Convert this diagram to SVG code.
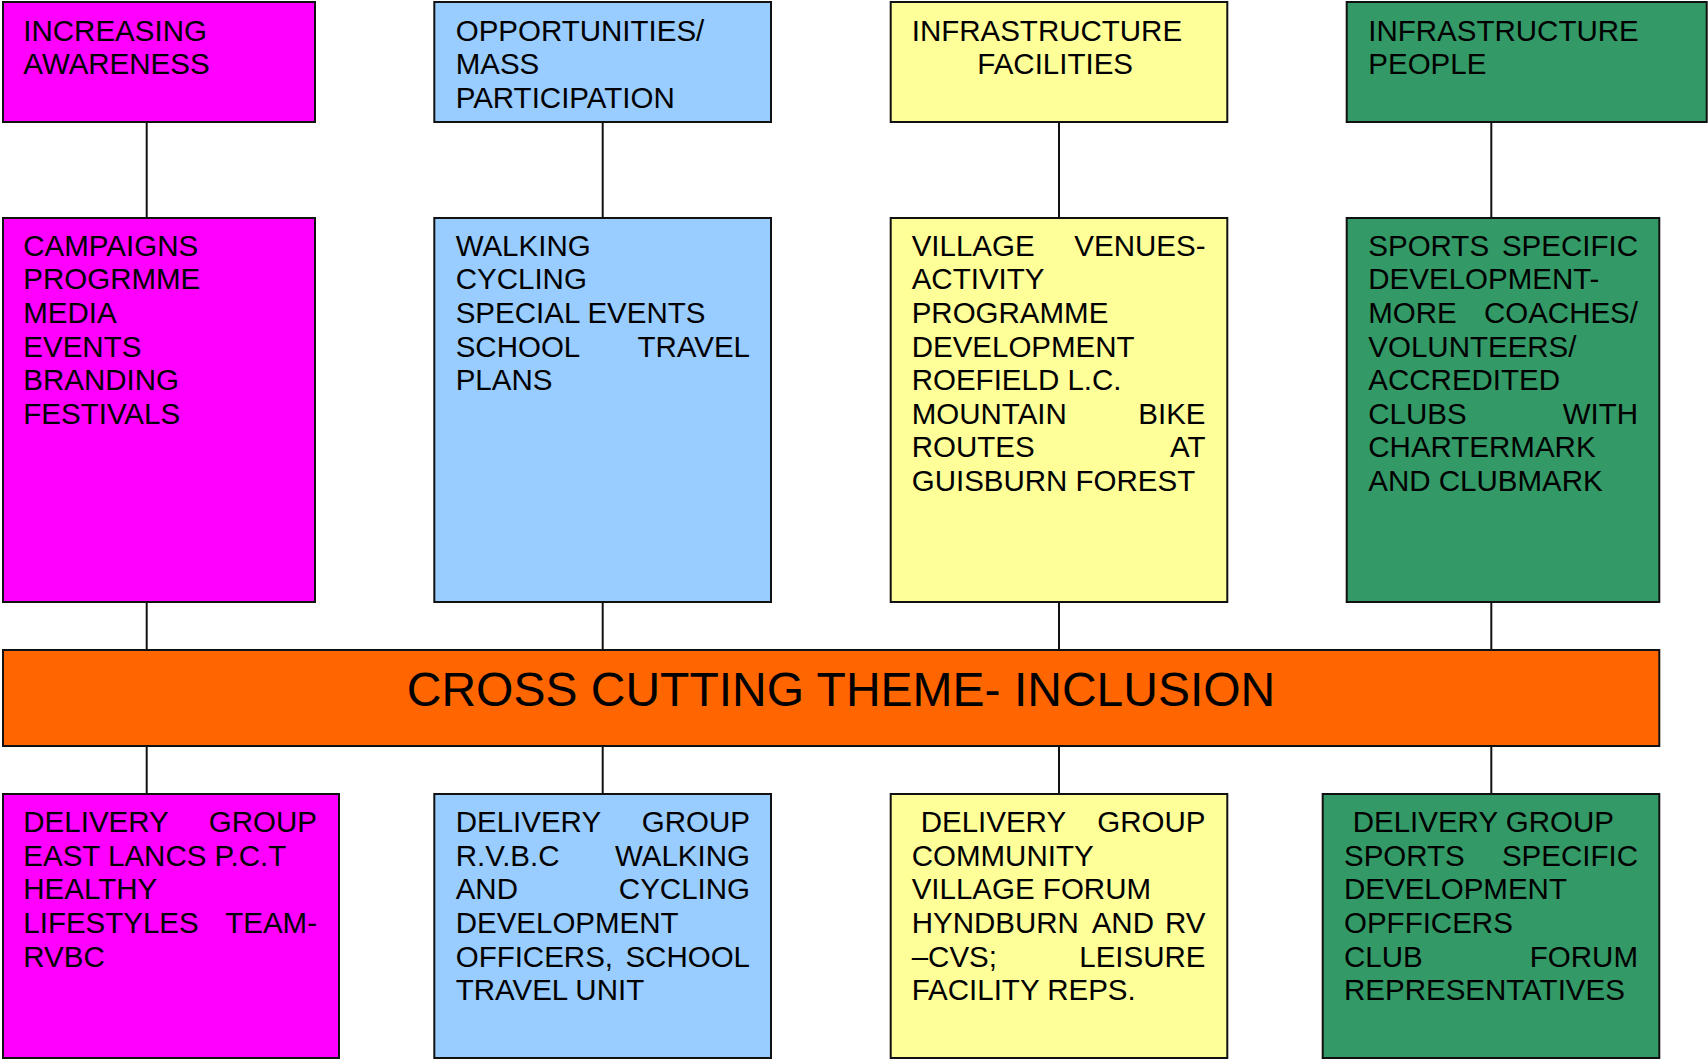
<svg xmlns="http://www.w3.org/2000/svg" width="1708" height="1060" viewBox="0 0 1708 1060">
<style>
rect{stroke:#111;stroke-width:2}
.m{fill:#FF00FF}.b{fill:#99CCFF}.y{fill:#FFFF99}.g{fill:#339966}.o{fill:#FF6600}
text{font-family:"Liberation Sans",Arial,sans-serif;font-size:29.5px;fill:#000}
.e{text-anchor:end}
.big{font-size:48px;text-anchor:middle}
#connectors line{stroke:#111;stroke-width:2}
</style>
<rect x="0" y="0" width="1708" height="1060" fill="#fff" style="stroke:none"/>
<g id="connectors">
<line x1="146.7" y1="122" x2="146.7" y2="218"/>
<line x1="602.7" y1="122" x2="602.7" y2="218"/>
<line x1="1059" y1="122" x2="1059" y2="218"/>
<line x1="1491.3" y1="122" x2="1491.3" y2="218"/>
<line x1="146.7" y1="602" x2="146.7" y2="650"/>
<line x1="602.7" y1="602" x2="602.7" y2="650"/>
<line x1="1059" y1="602" x2="1059" y2="650"/>
<line x1="1491.3" y1="602" x2="1491.3" y2="650"/>
<line x1="146.7" y1="746" x2="146.7" y2="794"/>
<line x1="602.7" y1="746" x2="602.7" y2="794"/>
<line x1="1059" y1="746" x2="1059" y2="794"/>
<line x1="1491.3" y1="746" x2="1491.3" y2="794"/>
</g>
<g id="increasing-awareness">
<rect class="m" x="3" y="2" width="312" height="120"/>
<text x="23.3" y="40.5">INCREASING</text>
<text x="23.3" y="74">AWARENESS</text>
</g>
<g id="opportunities">
<rect class="b" x="434.3" y="2" width="336.7" height="120"/>
<text x="455.7" y="40.5">OPPORTUNITIES/</text>
<text x="455.7" y="74">MASS</text>
<text x="455.7" y="107.5">PARTICIPATION</text>
</g>
<g id="infrastructure-facilities">
<rect class="y" x="890.7" y="2" width="336.6" height="120"/>
<text x="911.7" y="40.5">INFRASTRUCTURE</text>
<text x="977.3" y="74">FACILITIES</text>
</g>
<g id="infrastructure-people">
<rect class="g" x="1346.7" y="2" width="360" height="120"/>
<text x="1368.3" y="40.5">INFRASTRUCTURE</text>
<text x="1368.3" y="74">PEOPLE</text>
</g>
<g id="campaigns">
<rect class="m" x="3" y="218" width="312" height="384"/>
<text x="23.3" y="255.5">CAMPAIGNS</text>
<text x="23.3" y="289.2">PROGRMME</text>
<text x="23.3" y="322.8">MEDIA</text>
<text x="23.3" y="356.5">EVENTS</text>
<text x="23.3" y="390.1">BRANDING</text>
<text x="23.3" y="423.8">FESTIVALS</text>
</g>
<g id="walking">
<rect class="b" x="434.3" y="218" width="336.7" height="384"/>
<text x="455.7" y="255.5">WALKING</text>
<text x="455.7" y="289.2">CYCLING</text>
<text x="455.7" y="322.8">SPECIAL EVENTS</text>
<text x="455.7" y="356.5">SCHOOL</text><text class="e" x="750" y="356.5">TRAVEL</text>
<text x="455.7" y="390.1">PLANS</text>
</g>
<g id="village-venues">
<rect class="y" x="890.7" y="218" width="336.6" height="384"/>
<text x="911.7" y="255.5">VILLAGE</text><text class="e" x="1205.5" y="255.5">VENUES-</text>
<text x="911.7" y="289.2">ACTIVITY</text>
<text x="911.7" y="322.8">PROGRAMME</text>
<text x="911.7" y="356.5">DEVELOPMENT</text>
<text x="911.7" y="390.1">ROEFIELD L.C.</text>
<text x="911.7" y="423.8">MOUNTAIN</text><text class="e" x="1205.5" y="423.8">BIKE</text>
<text x="911.7" y="457.4">ROUTES</text><text class="e" x="1205.5" y="457.4">AT</text>
<text x="911.7" y="491.1">GUISBURN FOREST</text>
</g>
<g id="sports-specific">
<rect class="g" x="1346.7" y="218" width="312.6" height="384"/>
<text x="1368.3" y="255.5">SPORTS</text><text class="e" x="1638" y="255.5">SPECIFIC</text>
<text x="1368.3" y="289.2">DEVELOPMENT-</text>
<text x="1368.3" y="322.8">MORE</text><text class="e" x="1638" y="322.8">COACHES/</text>
<text x="1368.3" y="356.5">VOLUNTEERS/</text>
<text x="1368.3" y="390.1">ACCREDITED</text>
<text x="1368.3" y="423.8">CLUBS</text><text class="e" x="1638" y="423.8">WITH</text>
<text x="1368.3" y="457.4">CHARTERMARK</text>
<text x="1368.3" y="491.1">AND CLUBMARK</text>
</g>
<g id="inclusion">
<rect class="o" x="3" y="650" width="1656.3" height="96"/>
<text class="big" x="841" y="706">CROSS CUTTING THEME- INCLUSION</text>
</g>
<g id="delivery-pct">
<rect class="m" x="3" y="794" width="336" height="264"/>
<text x="23.3" y="832">DELIVERY</text><text class="e" x="317" y="832">GROUP</text>
<text x="23.3" y="865.6">EAST LANCS P.C.T</text>
<text x="23.3" y="899.3">HEALTHY</text>
<text x="23.3" y="932.9">LIFESTYLES</text><text class="e" x="317" y="932.9">TEAM-</text>
<text x="23.3" y="966.6">RVBC</text>
</g>
<g id="delivery-rvbc">
<rect class="b" x="434.3" y="794" width="336.7" height="264"/>
<text x="455.7" y="832">DELIVERY</text><text class="e" x="750" y="832">GROUP</text>
<text x="455.7" y="865.6">R.V.B.C</text><text class="e" x="750" y="865.6">WALKING</text>
<text x="455.7" y="899.3">AND</text><text class="e" x="750" y="899.3">CYCLING</text>
<text x="455.7" y="932.9">DEVELOPMENT</text>
<text x="455.7" y="966.6">OFFICERS,</text><text class="e" x="750" y="966.6">SCHOOL</text>
<text x="455.7" y="1000.2">TRAVEL UNIT</text>
</g>
<g id="delivery-community">
<rect class="y" x="890.7" y="794" width="336.6" height="264"/>
<text x="920.7" y="832">DELIVERY</text><text class="e" x="1205.5" y="832">GROUP</text>
<text x="911.7" y="865.6">COMMUNITY</text>
<text x="911.7" y="899.3">VILLAGE FORUM</text>
<text x="911.7" y="932.9">HYNDBURN</text><text x="1091.7" y="932.9">AND</text><text class="e" x="1205.5" y="932.9">RV</text>
<text x="911.7" y="966.6">–CVS;</text><text class="e" x="1205.5" y="966.6">LEISURE</text>
<text x="911.7" y="1000.2">FACILITY REPS.</text>
</g>
<g id="delivery-sports">
<rect class="g" x="1322.7" y="794" width="336.6" height="264"/>
<text x="1352.7" y="832">DELIVERY GROUP</text>
<text x="1344" y="865.6">SPORTS</text><text class="e" x="1638" y="865.6">SPECIFIC</text>
<text x="1344" y="899.3">DEVELOPMENT</text>
<text x="1344" y="932.9">OPFFICERS</text>
<text x="1344" y="966.6">CLUB</text><text class="e" x="1638" y="966.6">FORUM</text>
<text x="1344" y="1000.2">REPRESENTATIVES</text>
</g>
</svg>
